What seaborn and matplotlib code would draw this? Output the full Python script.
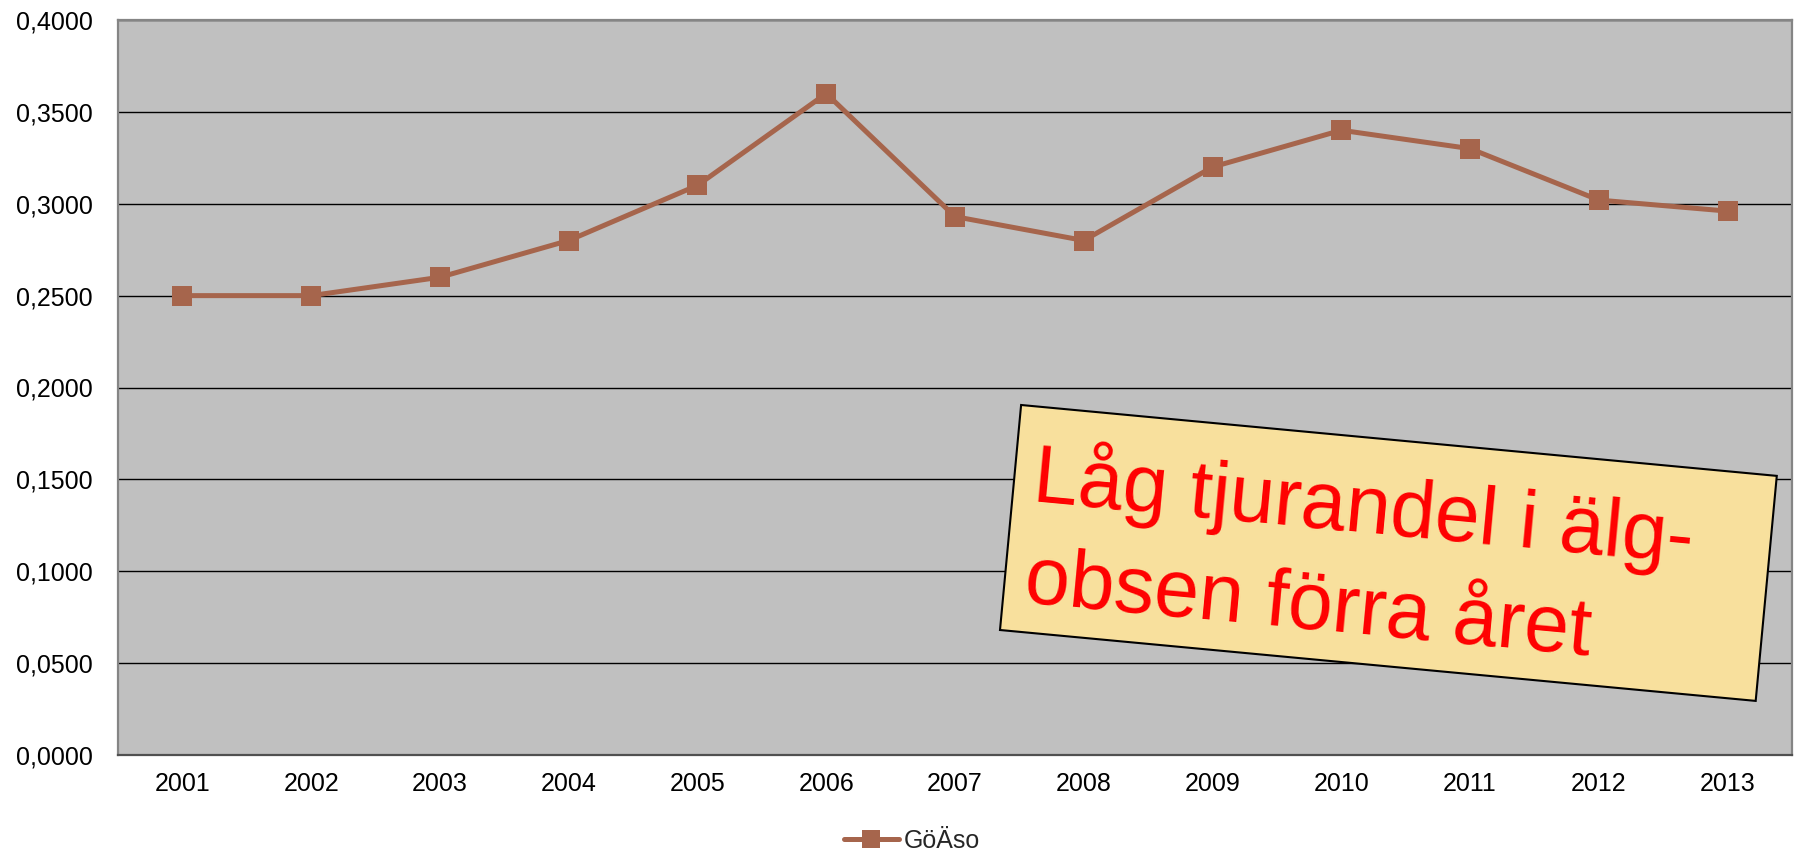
import matplotlib
matplotlib.use("Agg")
import numpy as np
import pandas as pd
import matplotlib.pyplot as plt
import seaborn as sns
from matplotlib.patches import Rectangle
from matplotlib.ticker import FuncFormatter, MultipleLocator
from matplotlib.transforms import IdentityTransform

# data
years = ["2001", "2002", "2003", "2004", "2005", "2006", "2007",
         "2008", "2009", "2010", "2011", "2012", "2013"]
goaso = [0.250, 0.250, 0.260, 0.280, 0.310, 0.360, 0.293,
         0.280, 0.320, 0.340, 0.330, 0.302, 0.296]
series_name = "GöÄso"
note_lines = ["Låg tjurandel i älg-", "obsen förra året"]

line_color = "#A6654C"

sns.set_theme(style="white")
plt.rcParams["font.family"] = ["Liberation Sans", "DejaVu Sans"]

W, H, DPI = 1796, 852, 100
fig = plt.figure(figsize=(W / DPI, H / DPI), dpi=DPI)
ax = fig.add_axes([118 / W, (H - 755) / H, (1792 - 118) / W, (755 - 20) / H])
ax.set_facecolor("#C0C0C0")

df = pd.DataFrame({"year": years, "value": goaso})
sns.lineplot(data=df, x="year", y="value", ax=ax, color=line_color,
             linewidth=3.6, marker="s", markersize=15, markeredgewidth=0,
             label=series_name, zorder=3)

ax.set_xlim(-0.5, len(years) - 0.5)
ax.set_ylim(0, 0.4)
ax.yaxis.set_major_locator(MultipleLocator(0.05))
ax.yaxis.set_major_formatter(FuncFormatter(lambda v, p: f"{v:.4f}".replace(".", ",")))
ax.grid(axis="y", color="black", linewidth=1.0)
ax.grid(axis="x", visible=False)
ax.set_axisbelow(True)
ax.set_xlabel("")
ax.set_ylabel("")
ax.tick_params(axis="y", length=0, pad=18, labelsize=18, labelcolor="black")
ax.tick_params(axis="x", length=0, pad=12, labelsize=18, labelcolor="black")
for side in ["left", "top", "right"]:
    ax.spines[side].set_color("#858585")
    ax.spines[side].set_linewidth(1.6)
ax.spines["bottom"].set_color("#505050")
ax.spines["bottom"].set_linewidth(1.6)

ax.get_legend().remove()
handles, labels = ax.get_legend_handles_labels()
fig.legend(handles, labels, loc="center", bbox_to_anchor=(912 / W, 1 - 841 / H),
           frameon=False, fontsize=18, handlelength=2.2, handletextpad=0.2,
           markerscale=0.9)

# rotated note box, in pixel coordinates
angle = -5.36
box = Rectangle((1000, H - 630), 759, 226, angle=angle, transform=IdentityTransform(),
                facecolor="#F8E09D", edgecolor="black", linewidth=1.5, zorder=5)
fig.add_artist(box)
# each line anchored at its baseline start (pixels, y from top)
line_anchors = [(1032, 501.5), (1023, 602)]
for txt, (px, py) in zip(note_lines, line_anchors):
    fig.text(px / W, 1 - py / H, txt, color="#FF0000", fontsize=58,
             rotation=angle, rotation_mode="anchor", ha="left", va="baseline",
             zorder=6)

fig.savefig("out.png", dpi=DPI)
